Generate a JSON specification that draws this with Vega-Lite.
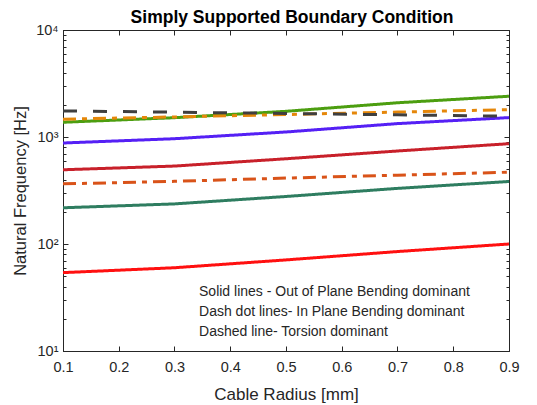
{
  "$schema": "https://vega.github.io/schema/vega-lite/v6.json",
  "width": 446,
  "height": 321,
  "autosize": {"type": "none"},
  "padding": {"left": 63, "top": 30, "right": 28, "bottom": 54},
  "config": {
    "font": "Liberation Sans",
    "view": {"stroke": "#262626", "strokeWidth": 1},
    "axis": {"grid": false, "domainColor": "#262626", "tickColor": "#262626", "labelColor": "#262626", "titleColor": "#262626", "labelFont": "Liberation Sans", "titleFont": "Liberation Sans", "titleFontWeight": "normal"}
  },
  "title": {"text": "Simply Supported Boundary Condition", "fontSize": 17.5, "fontWeight": "bold", "color": "#000000", "offset": 8, "dy": 26, "dx": 6, "baseline": "alphabetic", "anchor": "middle"},
  "datasets": {
    "lines": [
      {"series": "A", "r": 0.1, "f": 54}, {"series": "A", "r": 0.3, "f": 60}, {"series": "A", "r": 0.5, "f": 71}, {"series": "A", "r": 0.7, "f": 85}, {"series": "A", "r": 0.9, "f": 100},
      {"series": "B", "r": 0.1, "f": 218}, {"series": "B", "r": 0.3, "f": 237}, {"series": "B", "r": 0.5, "f": 278}, {"series": "B", "r": 0.7, "f": 331}, {"series": "B", "r": 0.9, "f": 384},
      {"series": "C", "r": 0.1, "f": 365}, {"series": "C", "r": 0.3, "f": 385}, {"series": "C", "r": 0.5, "f": 413}, {"series": "C", "r": 0.7, "f": 440}, {"series": "C", "r": 0.9, "f": 469},
      {"series": "D", "r": 0.1, "f": 494}, {"series": "D", "r": 0.3, "f": 535}, {"series": "D", "r": 0.5, "f": 626}, {"series": "D", "r": 0.7, "f": 740}, {"series": "D", "r": 0.9, "f": 866},
      {"series": "E", "r": 0.1, "f": 879}, {"series": "E", "r": 0.3, "f": 964}, {"series": "E", "r": 0.5, "f": 1114}, {"series": "E", "r": 0.7, "f": 1334}, {"series": "E", "r": 0.9, "f": 1518},
      {"series": "F", "r": 0.1, "f": 1373}, {"series": "F", "r": 0.3, "f": 1515}, {"series": "F", "r": 0.5, "f": 1738}, {"series": "F", "r": 0.7, "f": 2089}, {"series": "F", "r": 0.9, "f": 2404},
      {"series": "G", "r": 0.1, "f": 1466}, {"series": "G", "r": 0.3, "f": 1540}, {"series": "G", "r": 0.5, "f": 1622}, {"series": "G", "r": 0.7, "f": 1710}, {"series": "G", "r": 0.9, "f": 1803},
      {"series": "H", "r": 0.1, "f": 1753}, {"series": "H", "r": 0.3, "f": 1705}, {"series": "H", "r": 0.5, "f": 1660}, {"series": "H", "r": 0.7, "f": 1610}, {"series": "H", "r": 0.9, "f": 1562}
    ],
    "notes": [
      {"r": 0.344, "f": 35.4, "label": "Solid lines - Out of Plane Bending dominant"},
      {"r": 0.344, "f": 23.0, "label": "Dash dot lines- In Plane Bending dominant"},
      {"r": 0.344, "f": 15.0, "label": "Dashed line- Torsion dominant"}
    ]
  },
  "layer": [
    {
      "data": {"name": "lines"},
      "mark": {"type": "line", "strokeWidth": 3, "strokeCap": "butt"},
      "encoding": {
        "x": {"field": "r", "type": "quantitative", "scale": {"domain": [0.1, 0.9], "nice": false, "zero": false},
          "axis": {"title": "Cable Radius [mm]", "values": [0.1, 0.2, 0.3, 0.4, 0.5, 0.6, 0.7, 0.8, 0.9], "format": ".1f", "tickSize": -5, "labelPadding": 14, "labelFontSize": 14.5, "titleFontSize": 17, "titlePadding": 13, "labelFlush": false}},
        "y": {"field": "f", "type": "quantitative", "scale": {"type": "log", "domain": [10, 10000], "nice": false},
          "axis": {"title": "Natural Frequency [Hz]", "values": [10, 20, 30, 40, 50, 60, 70, 80, 90, 100, 200, 300, 400, 500, 600, 700, 800, 900, 1000, 2000, 3000, 4000, 5000, 6000, 7000, 8000, 9000, 10000],
            "labelExpr": "datum.value == 10 ? '10¹' : datum.value == 100 ? '10²' : datum.value == 1000 ? '10³' : datum.value == 10000 ? '10⁴' : ''",
            "tickSize": {"condition": {"test": "datum.value == 10 || datum.value == 100 || datum.value == 1000 || datum.value == 10000", "value": -5}, "value": -3},
            "labelPadding": 10, "labelFontSize": 14.5, "titleFontSize": 16.5, "titlePadding": 7}},
        "color": {"field": "series", "type": "nominal", "legend": null,
          "scale": {"domain": ["A", "B", "C", "D", "E", "F", "G", "H"], "range": ["#FF1010", "#2E7D60", "#D95319", "#C8202A", "#5520F5", "#4C9E10", "#E5870A", "#3F3F3F"]}},
        "strokeDash": {"field": "series", "type": "nominal", "legend": null,
          "scale": {"domain": ["A", "B", "C", "D", "E", "F", "G", "H"], "range": [[1, 0], [1, 0], [13, 6, 5, 6], [1, 0], [1, 0], [1, 0], [13, 6, 5, 6], [14, 16]]}}
      }
    },
    {
      "data": {"name": "notes"},
      "mark": {"type": "text", "align": "left", "baseline": "middle", "fontSize": 14, "color": "#262626", "font": "Liberation Sans"},
      "encoding": {
        "x": {"field": "r", "type": "quantitative", "axis": {"orient": "top", "title": null, "labels": false, "domain": false, "values": [0.1, 0.2, 0.3, 0.4, 0.5, 0.6, 0.7, 0.8, 0.9], "tickSize": -5}},
        "y": {"field": "f", "type": "quantitative", "axis": {"orient": "right", "title": null, "labels": false, "domain": false, "values": [10, 20, 30, 40, 50, 60, 70, 80, 90, 100, 200, 300, 400, 500, 600, 700, 800, 900, 1000, 2000, 3000, 4000, 5000, 6000, 7000, 8000, 9000, 10000],
          "tickSize": {"condition": {"test": "datum.value == 10 || datum.value == 100 || datum.value == 1000 || datum.value == 10000", "value": -5}, "value": -3}}},
        "text": {"field": "label", "type": "nominal"}
      }
    }
  ],
  "resolve": {"axis": {"x": "independent", "y": "independent"}}
}
